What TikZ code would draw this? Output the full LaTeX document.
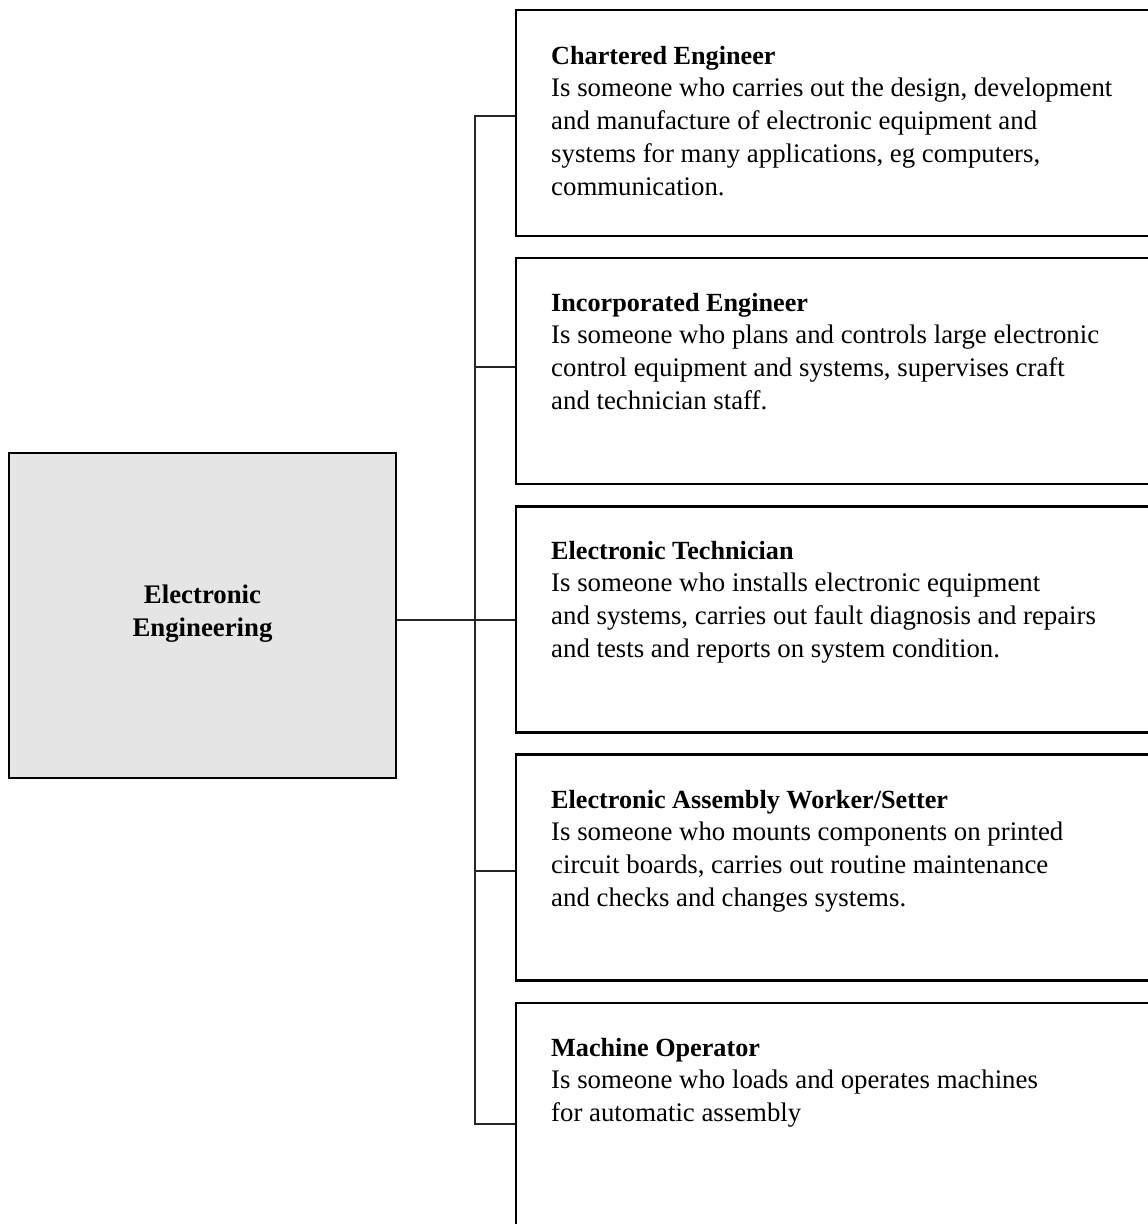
\documentclass[tikz,border=0pt]{standalone}
\usepackage{fontspec}
\setmainfont{Liberation Serif}
\newcommand{\roletitle}[1]{\rule{0pt}{20pt}{\fontsize{26.2}{32.7}\selectfont\bfseries #1}}
\begin{document}
\begin{tikzpicture}[x=1pt,y=-1pt,
  rolebox/.style={draw=black, line width=2.6pt, rectangle, minimum width=654pt, minimum height=226pt, inner sep=0pt},
  mainbox/.style={draw=black, line width=2.6pt, fill=boxgray, rectangle, minimum width=387pt, minimum height=325pt, inner sep=0pt},
  maintext/.style={align=center, inner sep=0pt, font=\fontsize{26.8}{33}\selectfont\bfseries},
  roletext/.style={anchor=north west, inner sep=0pt, align=left, font=\fontsize{26.8}{32.7}\selectfont},
  link/.style={draw=black!85, line width=2.2pt}]
\definecolor{boxgray}{RGB}{229,229,229}
\path[use as bounding box, clip] (0,0) rectangle (1148,1224);

% central node
\node[mainbox] (main) at (202.5,615.5) {};
\node[maintext] (mainlabel) at (202.5,613.5) {Electronic\\Engineering};

% role boxes (they run past the right and bottom edges)
\node[rolebox] (b1) at (843,123) {};
\node[rolebox] (b2) at (843,371) {};
\node[rolebox] (b3) at (843,619.5) {};
\node[rolebox] (b4) at (843,867.5) {};
\node[rolebox] (b5) at (843,1116) {};

% role descriptions: title baseline sits 20pt below the node top
\node[roletext] (d1) at (551,44) {\roletitle{Chartered Engineer}\\Is someone who carries out the design, development\\and manufacture of electronic equipment and\\systems for many applications, eg computers,\\communication.};
\node[roletext] (d2) at (551,291) {\roletitle{Incorporated Engineer}\\Is someone who plans and controls large electronic\\control equipment and systems, supervises craft\\and technician staff.};
\node[roletext] (d3) at (551,539) {\roletitle{Electronic Technician}\\Is someone who installs electronic equipment\\and systems, carries out fault diagnosis and repairs\\and tests and reports on system condition.};
\node[roletext] (d4) at (551,788) {\roletitle{Electronic Assembly Worker/Setter}\\Is someone who mounts components on printed\\circuit boards, carries out routine maintenance\\and checks and changes systems.};
\node[roletext] (d5) at (551,1036) {\roletitle{Machine Operator}\\Is someone who loads and operates machines\\for automatic assembly};

% connector tree
\coordinate (j1) at (475,116);
\coordinate (j2) at (475,367);
\coordinate (j3) at (475,620);
\coordinate (j4) at (475,871);
\coordinate (j5) at (475,1124);
\draw[link] (main.east |- j3) -- (j3 -| b3.west);
\draw[link] (j1 -| b1.west) -- (j1) -- (j5) -- (j5 -| b5.west);
\draw[link] (j2) -- (j2 -| b2.west);
\draw[link] (j4) -- (j4 -| b4.west);
\end{tikzpicture}
\end{document}
